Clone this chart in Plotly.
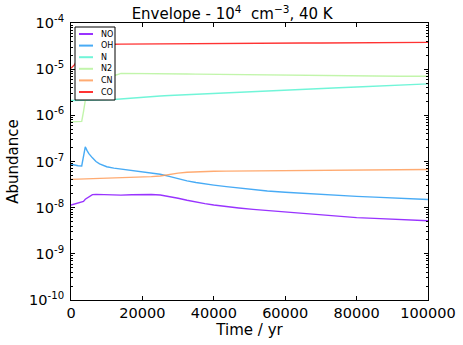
import plotly.graph_objects as go

# ---- data ----
time_yr = [0, 1000, 2000, 3000, 3500, 4000, 4500, 5000, 6000, 7000, 8000, 10000, 12000, 14000,
           17000, 20000, 22500, 25000, 27500, 30000, 32500, 35000, 37500, 40000, 43500, 47000,
           51000, 55000, 60000, 65000, 70000, 75000, 80000, 85000, 92000, 100000]

species = ["NO", "OH", "N", "N2", "CN", "CO"]

no_ab = [1.14e-8, 1.2e-8, 1.26e-8, 1.3e-8, 1.37e-8, 1.52e-8, 1.63e-8, 1.75e-8, 1.92e-8, 1.94e-8,
         1.93e-8, 1.9e-8, 1.86e-8, 1.87e-8, 1.9e-8, 1.94e-8, 1.93e-8, 1.88e-8, 1.76e-8, 1.6e-8,
         1.45e-8, 1.32e-8, 1.22e-8, 1.14e-8, 1.05e-8, 9.85e-9, 9.2e-9, 8.65e-9, 8.0e-9, 7.4e-9,
         6.85e-9, 6.45e-9, 6.1e-9, 5.85e-9, 5.5e-9, 5.2e-9]
oh_ab = [8.7e-8, 8.3e-8, 8.1e-8, 8.0e-8, 1.3e-7, 2.07e-7, 1.72e-7, 1.48e-7, 1.2e-7, 1.0e-7,
         8.9e-8, 7.7e-8, 7.2e-8, 6.9e-8, 6.45e-8, 6.0e-8, 5.7e-8, 5.3e-8, 4.75e-8, 4.2e-8,
         3.8e-8, 3.5e-8, 3.25e-8, 3.08e-8, 2.85e-8, 2.66e-8, 2.47e-8, 2.3e-8, 2.15e-8, 2.03e-8,
         1.92e-8, 1.84e-8, 1.76e-8, 1.69e-8, 1.6e-8, 1.5e-8]
n_ab = [2.1e-6, 2.1e-6, 2.1e-6, 2.1e-6, 2.1e-6, 2.11e-6, 2.11e-6, 2.12e-6, 2.13e-6, 2.14e-6,
        2.15e-6, 2.18e-6, 2.21e-6, 2.28e-6, 2.38e-6, 2.47e-6, 2.55e-6, 2.62e-6, 2.69e-6, 2.75e-6,
        2.82e-6, 2.88e-6, 2.94e-6, 3.0e-6, 3.1e-6, 3.2e-6, 3.31e-6, 3.42e-6, 3.55e-6, 3.68e-6,
        3.81e-6, 3.95e-6, 4.1e-6, 4.25e-6, 4.5e-6, 4.8e-6]
n2_ab = [7.2e-7, 7.2e-7, 7.2e-7, 7.4e-7, 1.2e-6, 2.1e-6, 2.6e-6, 3.0e-6, 3.8e-6, 4.4e-6,
         5.0e-6, 6.0e-6, 7.2e-6, 8.1e-6, 8.1e-6, 8.05e-6, 8.0e-6, 7.95e-6, 7.92e-6, 7.9e-6,
         7.85e-6, 7.8e-6, 7.75e-6, 7.7e-6, 7.65e-6, 7.6e-6, 7.55e-6, 7.5e-6, 7.42e-6, 7.35e-6,
         7.28e-6, 7.2e-6, 7.15e-6, 7.1e-6, 7.05e-6, 7.0e-6]
cn_ab = [4.1e-8, 4.12e-8, 4.15e-8, 4.17e-8, 4.18e-8, 4.2e-8, 4.21e-8, 4.22e-8, 4.25e-8, 4.27e-8,
         4.3e-8, 4.35e-8, 4.4e-8, 4.45e-8, 4.52e-8, 4.6e-8, 4.7e-8, 4.85e-8, 5.25e-8, 5.6e-8,
         5.85e-8, 6.0e-8, 6.1e-8, 6.15e-8, 6.18e-8, 6.2e-8, 6.22e-8, 6.25e-8, 6.3e-8, 6.35e-8,
         6.4e-8, 6.45e-8, 6.5e-8, 6.55e-8, 6.62e-8, 6.7e-8]
co_ab = [1.05e-5, 1.25e-5, 1.8e-5, 2.5e-5, 2.8e-5, 3.05e-5, 3.2e-5, 3.3e-5, 3.4e-5, 3.43e-5,
         3.45e-5, 3.46e-5, 3.47e-5, 3.48e-5, 3.5e-5, 3.51e-5, 3.52e-5, 3.53e-5, 3.54e-5, 3.55e-5,
         3.56e-5, 3.57e-5, 3.58e-5, 3.59e-5, 3.6e-5, 3.62e-5, 3.63e-5, 3.64e-5, 3.66e-5, 3.68e-5,
         3.7e-5, 3.72e-5, 3.73e-5, 3.75e-5, 3.77e-5, 3.8e-5]

series = [no_ab, oh_ab, n_ab, n2_ab, cn_ab, co_ab]

x_tickvals = [0, 20000, 40000, 60000, 80000, 100000]
x_ticktext = ["0", "20000", "40000", "60000", "80000", "100000"]
y_tickvals = [1e-10, 1e-9, 1e-8, 1e-7, 1e-6, 1e-5, 1e-4]
y_ticktext = ["10<sup>-10</sup>", "10<sup>-9</sup>", "10<sup>-8</sup>", "10<sup>-7</sup>",
              "10<sup>-6</sup>", "10<sup>-5</sup>", "10<sup>-4</sup>"]

colors = ["rgba(128,0,255,0.8)", "rgba(26,150,243,0.8)", "rgba(77,243,206,0.8)",
          "rgba(179,243,150,0.8)", "rgba(255,150,79,0.8)", "rgba(255,0,0,0.8)"]

W, H = 463, 345
L, R, T, B = 71, 35, 23, 45
PW, PH = W - L - R, H - T - B


def px(x):
    return (x - L) / PW


def py(y):
    return (H - B - y) / PH


fig = go.Figure()
for name, vals, col in zip(species, series, colors):
    fig.add_trace(go.Scatter(x=time_yr, y=vals, mode="lines", name=name,
                             line=dict(color=col, width=1.4), showlegend=False))

font = "DejaVu Sans, Arial, sans-serif"

# manual legend (matplotlib style box)
shapes = [dict(type="rect", xref="paper", yref="paper", x0=px(75), x1=px(115),
               y0=py(100), y1=py(27), line=dict(color="black", width=1),
               fillcolor="white", layer="above")]
annotations = []
row_y = [34, 45.6, 57.2, 68.8, 80.4, 92]
for name, col, ry in zip(species, colors, row_y):
    shapes.append(dict(type="line", xref="paper", yref="paper", x0=px(79), x1=px(93),
                       y0=py(ry), y1=py(ry), line=dict(color=col, width=2), layer="above"))
    annotations.append(dict(xref="paper", yref="paper", x=px(99), y=py(ry), text=name,
                            showarrow=False, xanchor="left", yanchor="middle",
                            font=dict(size=8, color="black", family=font)))

fig.update_layout(
    width=W, height=H,
    margin=dict(l=L, r=R, t=T, b=B, autoexpand=False),
    paper_bgcolor="white", plot_bgcolor="white",
    font=dict(family=font, color="black", size=14.5),
    title=dict(text="Envelope - 10<sup>4</sup>  cm<sup>−3</sup>, 40 K", x=px(250), xanchor="center",
               y=1 - 14 / H, yanchor="middle", automargin=False,
               font=dict(size=15, family=font, color="black")),
    shapes=shapes, annotations=annotations,
)
fig.update_xaxes(range=[0, 100000], tickvals=x_tickvals, ticktext=x_ticktext,
                 ticks="inside", ticklen=4, tickcolor="black", showline=True,
                 linecolor="black", linewidth=1, mirror="allticks", showgrid=False,
                 zeroline=False, automargin=False,
                 title=dict(text="Time / yr", standoff=2, font=dict(size=15, family=font)))
fig.update_yaxes(type="log", range=[-10, -4], tickvals=y_tickvals, ticktext=y_ticktext,
                 ticks="inside", ticklen=4, tickcolor="black", showline=True,
                 linecolor="black", linewidth=1, mirror="allticks", showgrid=False,
                 zeroline=False, automargin=False, ticklabelstandoff=3,
                 minor=dict(ticks="inside", ticklen=2, tickcolor="black", showgrid=False,
                            dtick="D1"),
                 title=dict(text="Abundance", standoff=6, font=dict(size=15, family=font)))

fig.write_html("out.html", config={"displayModeBar": False},
               post_script="document.body.style.margin='0px';"
                           "document.body.style.overflow='hidden';")
